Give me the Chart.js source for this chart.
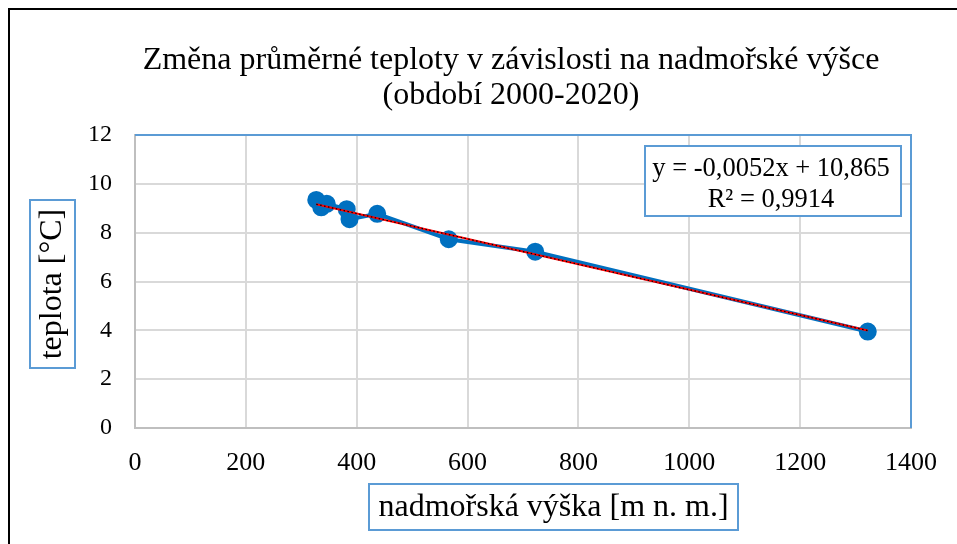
<!DOCTYPE html>
<html>
<head>
<meta charset="utf-8">
<script src="https://cdn.jsdelivr.net/npm/chart.js@4/dist/chart.umd.min.js"></script>
<style>
  html, body { margin: 0; padding: 0; background: #fff; }
  #wrap { width: 957px; height: 544px; }
</style>
</head>
<body>
<div id="wrap"><canvas id="chart" width="957" height="544"></canvas></div>
<script>
// values
const altitude = [327, 336, 346, 382, 387, 437, 566, 722, 1322];
const temperature = [9.34, 9.04, 9.18, 8.96, 8.55, 8.77, 7.73, 7.22, 3.95];
const xTicks = [0, 200, 400, 600, 800, 1000, 1200, 1400];
const yTicks = [0, 2, 4, 6, 8, 10, 12];
const slope = -0.0052;
const intercept = 10.865;
const titleLines = ['Změna průměrné teploty v závislosti na nadmořské výšce', '(období 2000-2020)'];
const xTitle = 'nadmořská výška [m n. m.]';
const yTitle = 'teplota [°C]';
const equation = ['y = -0,0052x + 10,865', 'R² = 0,9914'];

const serif = '"Liberation Serif", "Times New Roman", serif';
const blue = '#0070c0';
const frameBlue = '#5b9bd5';

const points = altitude.map((x, i) => ({ x: x, y: temperature[i] }));
const xMin = Math.min(...altitude), xMax = Math.max(...altitude);
const trend = [
    { x: xMin, y: slope * xMin + intercept },
    { x: xMax, y: slope * xMax + intercept }
];

// frame, title, boxed axis titles and the equation label
const decorations = {
    id: 'decorations',
    afterDraw(chart) {
        const ctx = chart.ctx;
        const a = chart.chartArea;
        ctx.save();

        // outer chart border
        ctx.strokeStyle = '#000';
        ctx.lineWidth = 2;
        ctx.beginPath();
        ctx.moveTo(9, 560); ctx.lineTo(9, 9); ctx.lineTo(970, 9);
        ctx.stroke();

        // plot area border (top + right)
        ctx.strokeStyle = frameBlue;
        ctx.lineWidth = 2;
        ctx.beginPath();
        ctx.moveTo(a.left, a.top); ctx.lineTo(a.right, a.top); ctx.lineTo(a.right, a.bottom);
        ctx.stroke();

        // title
        ctx.fillStyle = '#000';
        ctx.textAlign = 'center';
        ctx.textBaseline = 'middle';
        ctx.font = '32px ' + serif;
        ctx.fillText(titleLines[0], 511, 61);
        ctx.fillText(titleLines[1], 511, 96);

        // x axis title
        ctx.font = '32px ' + serif;
        ctx.strokeStyle = frameBlue;
        ctx.lineWidth = 2;
        ctx.strokeRect(369, 484, 369, 46);
        ctx.fillText(xTitle, 553.5, 508);

        // y axis title
        ctx.strokeRect(30, 200, 45, 168);
        ctx.save();
        ctx.translate(52, 284);
        ctx.rotate(-Math.PI / 2);
        ctx.fillText(yTitle, 0, 1);
        ctx.restore();

        // equation box
        ctx.fillStyle = '#fff';
        ctx.fillRect(645, 146, 256, 70);
        ctx.strokeRect(645, 146, 256, 70);
        ctx.fillStyle = '#000';
        ctx.font = '26.5px ' + serif;
        ctx.fillText(equation[0], 771, 169);
        ctx.fillText(equation[1], 771, 200);

        ctx.restore();
    }
};

new Chart(document.getElementById('chart'), {
    type: 'scatter',
    data: {
        datasets: [
            {
                label: 'teplota',
                data: points,
                showLine: true,
                borderColor: blue,
                backgroundColor: blue,
                borderWidth: 4,
                pointRadius: 7,
                pointHoverRadius: 7,
                order: 3
            },
            {
                label: 'trend',
                data: trend,
                showLine: true,
                borderColor: '#ff0000',
                borderWidth: 2,
                pointRadius: 0,
                order: 2
            },
            {
                label: 'trend dots',
                data: trend,
                showLine: true,
                borderColor: '#000',
                borderWidth: 1.2,
                borderDash: [1.5, 2.5],
                pointRadius: 0,
                order: 1
            }
        ]
    },
    options: {
        responsive: false,
        animation: false,
        layout: { padding: { top: 135, right: 46, bottom: 0, left: 0 } },
        plugins: {
            legend: { display: false },
            tooltip: { enabled: false },
            title: { display: false }
        },
        scales: {
            x: {
                type: 'linear',
                min: 0,
                max: 1400,
                afterBuildTicks: s => { s.ticks = xTicks.map(v => ({ value: v })); },
                afterFit: s => { s.height = 116; },
                grid: { color: '#d9d9d9', lineWidth: 2, drawTicks: false },
                border: { color: '#bfbfbf', width: 2 },
                ticks: {
                    color: '#000', padding: 20,
                    font: { family: serif, size: 26 },
                    callback: v => String(v)
                }
            },
            y: {
                type: 'linear',
                min: 0,
                max: 12,
                afterBuildTicks: s => { s.ticks = yTicks.map(v => ({ value: v })); },
                afterFit: s => { s.width = 135; },
                grid: { color: '#d9d9d9', lineWidth: 2, drawTicks: false },
                border: { color: '#bfbfbf', width: 2 },
                ticks: {
                    color: '#000', padding: 23,
                    font: { family: serif, size: 24 },
                    callback: v => String(v)
                }
            }
        }
    },
    plugins: [decorations]
});
</script>
</body>
</html>
